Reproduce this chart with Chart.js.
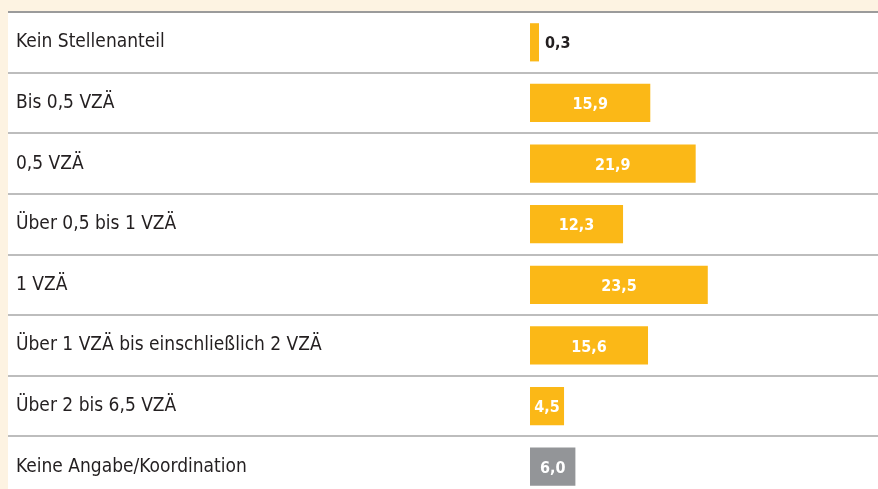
<!DOCTYPE html>
<html>
<head>
<meta charset="utf-8">
<script src="https://cdn.jsdelivr.net/npm/chart.js@4"></script>
<style>
  html, body { margin: 0; padding: 0; width: 878px; height: 489px; overflow: hidden; background: #fdf3e2; }
  #wrap { position: relative; width: 878px; height: 497px; }
</style>
</head>
<body>
<div id="wrap"><canvas id="chart" width="878" height="497"></canvas></div>
<script>
// Data
const categories = [
  'Kein Stellenanteil',
  'Bis 0,5 VZÄ',
  '0,5 VZÄ',
  'Über 0,5 bis 1 VZÄ',
  '1 VZÄ',
  'Über 1 VZÄ bis einschließlich 2 VZÄ',
  'Über 2 bis 6,5 VZÄ',
  'Keine Angabe/Koordination'
];
const shares = [0.3, 15.9, 21.9, 12.3, 23.5, 15.6, 4.5, 6.0];
const barColors = ['#fbb817', '#fbb817', '#fbb817', '#fbb817', '#fbb817', '#fbb817', '#fbb817', '#939598'];

const labelFont = '"Liberation Sans Narrow", "DejaVu Sans Condensed", sans-serif';

// cream frame + white panel behind the rows
const panelBg = {
  id: 'panelBg',
  beforeDraw(chart) {
    const ctx = chart.ctx;
    ctx.save();
    ctx.fillStyle = '#fdf3e2';
    ctx.fillRect(0, 0, chart.width, chart.height);
    ctx.fillStyle = '#ffffff';
    ctx.fillRect(8, chart.chartArea.top, chart.width - 8, chart.height - chart.chartArea.top);
    ctx.restore();
  }
};

// value labels: white inside the bar, dark next to it if the bar is too short
const valueLabels = {
  id: 'valueLabels',
  afterDatasetsDraw(chart) {
    const ctx = chart.ctx;
    const meta = chart.getDatasetMeta(0);
    ctx.save();
    ctx.font = 'bold 16px ' + labelFont;
    ctx.textBaseline = 'middle';
    meta.data.forEach((bar, i) => {
      const txt = shares[i].toFixed(1).replace('.', ',');
      const w = bar.x - bar.base;
      if (w > 25) {
        ctx.fillStyle = '#ffffff';
        ctx.textAlign = 'center';
        ctx.fillText(txt, bar.base + w / 2, bar.y + 2);
      } else {
        ctx.fillStyle = '#231f20';
        ctx.textAlign = 'left';
        ctx.fillText(txt, bar.x + 6, bar.y + 2);
      }
    });
    ctx.restore();
  }
};

new Chart(document.getElementById('chart'), {
  type: 'bar',
  data: {
    labels: categories,
    datasets: [{
      data: shares,
      backgroundColor: barColors,
      borderWidth: 0,
      minBarLength: 9,
      categoryPercentage: 1,
      barPercentage: 0.63
    }]
  },
  options: {
    indexAxis: 'y',
    responsive: false,
    animation: false,
    layout: { padding: { left: 16, top: 12, right: 0, bottom: 0 } },
    plugins: { legend: { display: false }, tooltip: { enabled: false } },
    scales: {
      x: { display: false, min: 0, max: 46 },
      y: {
        afterFit(scale) {
          scale.width = 514;
          scale.paddingTop = 0;
          scale.paddingBottom = 0;
        },
        border: { display: false },
        grid: {
          offset: true,
          tickLength: 522,
          color: (c) => c.index === 0 ? '#9b9b9b' : '#bdbdbd',
          lineWidth: 2
        },
        ticks: {
          crossAlign: 'far',
          color: '#231f20',
          font: { family: labelFont, size: 19 }
        }
      }
    }
  },
  plugins: [panelBg, valueLabels]
});
</script>
</body>
</html>
